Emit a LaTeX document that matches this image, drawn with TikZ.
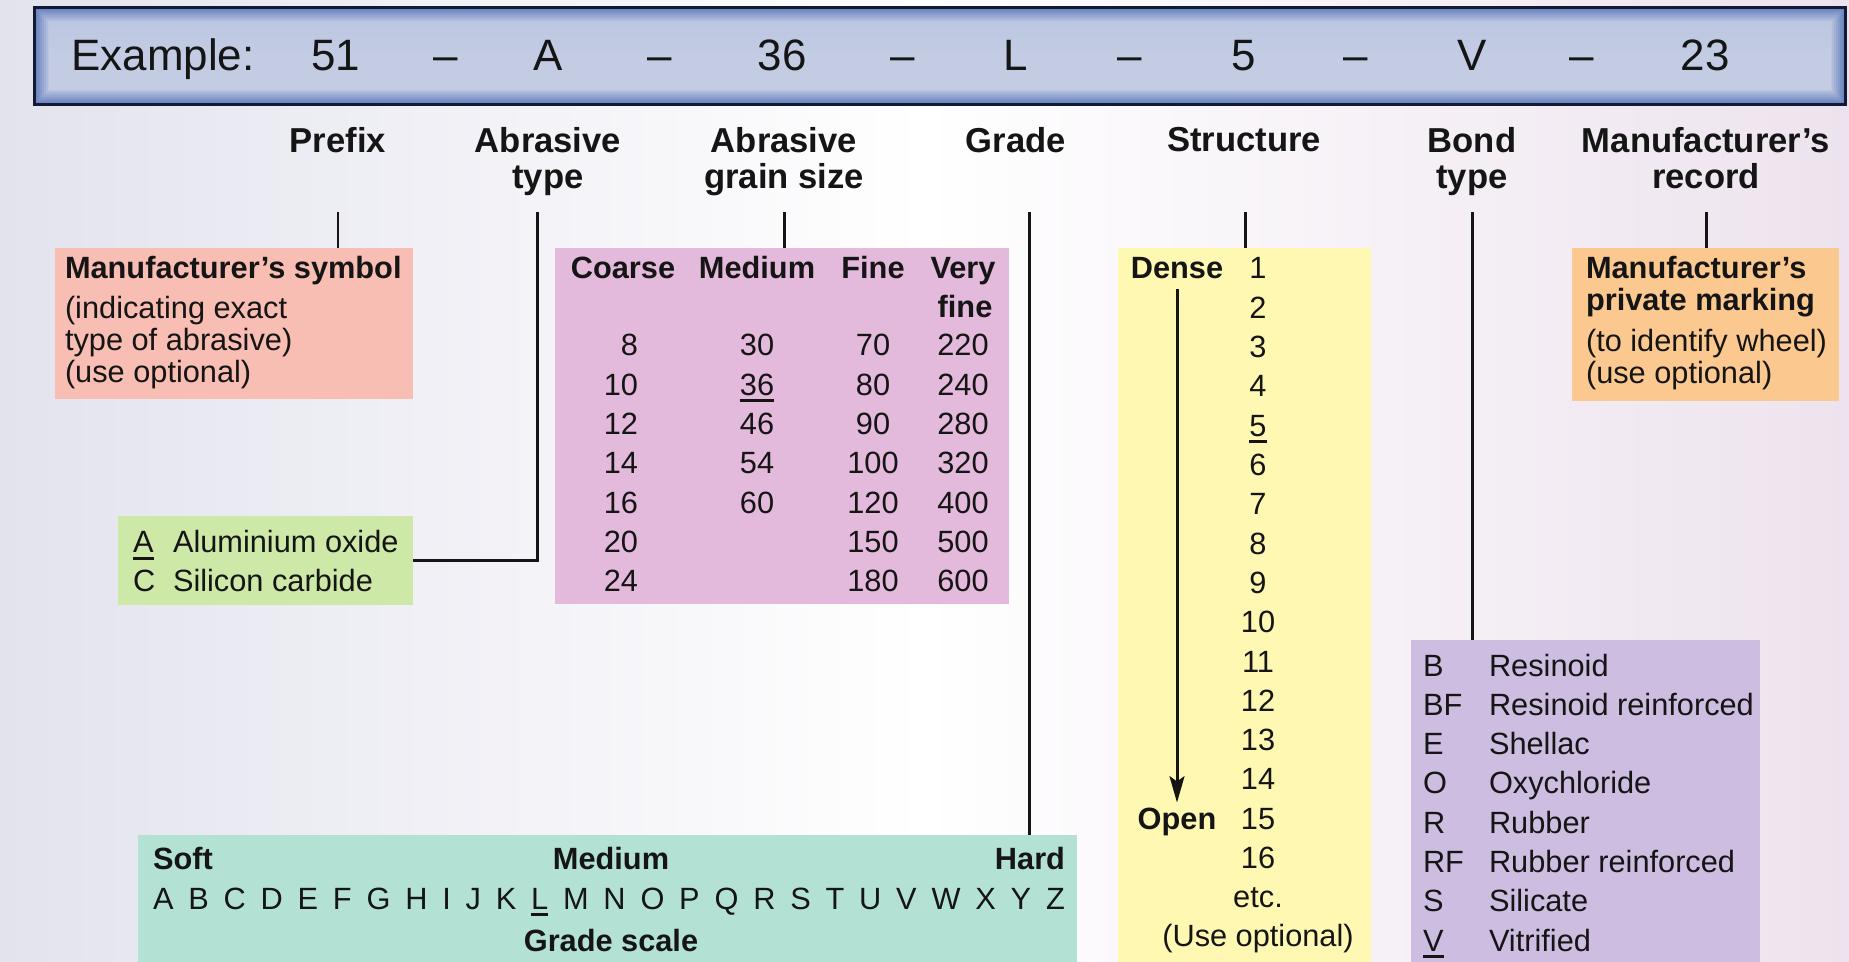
\documentclass[tikz,border=0pt]{standalone}
\usepackage{fontspec}
\setmainfont{Liberation Sans}
\usepackage{xcolor}
\usetikzlibrary{arrows.meta, positioning}

\definecolor{inkc}{HTML}{151515}
\definecolor{salmonc}{HTML}{F8BDB3}
\definecolor{limec}{HTML}{CDE8A7}
\definecolor{orchidc}{HTML}{E3B9DC}
\definecolor{tealc}{HTML}{B3E2D4}
\definecolor{lemonc}{HTML}{FFF8B2}
\definecolor{lilacc}{HTML}{CDBDE0}
\definecolor{apricotc}{HTML}{FBC990}
\definecolor{navyc}{HTML}{111B33}
\definecolor{steelc}{HTML}{6F88C2}
\definecolor{paleblue}{HTML}{C3CCE3}
\definecolor{bgleft}{HTML}{E3E3EE}
\definecolor{bgright}{HTML}{EDE3EE}

% underline with a thicker rule
\newcommand{\undr}[1]{\setbox0\hbox{#1}\rlap{\rule[-3.8pt]{\wd0}{1.6pt}}\box0}

\tikzset{
  txt/.style={inner sep=0pt, outer sep=0pt, text=inkc, font=\fontsize{17.5}{18.4}\selectfont},
  hd/.style={txt, font=\fontsize{19.7}{21}\selectfont\bfseries, align=center, anchor=north},
  bd/.style={txt, font=\fontsize{17.5}{18.4}\selectfont\bfseries},
  code/.style={txt, font=\fontsize{25}{28}\selectfont, anchor=base},
  panel/.style={draw=none, inner sep=0pt, outer sep=0pt, anchor=north west},
  link/.style={draw=inkc, line width=1.7pt},
}

\begin{document}
\begin{tikzpicture}[x=0.02cm, y=-0.02cm]
  \useasboundingbox (0,0) rectangle (1849,962);
  \shade[left color=bgleft, right color=bgright, middle color=white] (0,0) rectangle (1849,962);

  % code banner
  \fill[navyc] (33,6) rectangle (1847,106);
  \foreach \k in {0,...,6}
    \fill[steelc!\fpeval{100-\k*15}!paleblue] ({36+2*\k},{9+2*\k}) rectangle ({1844-2*\k},{103-2*\k});
  \shade[top color=paleblue!92!steelc, bottom color=paleblue, middle color=paleblue] (49,22) rectangle (1831,90);
  \node[code] (ex) at (163,71) {Example:};
  \foreach \t/\x [count=\i] in {51/336, \textendash/446, A/548, \textendash/660, 36/782,
      \textendash/903, L/1016, \textendash/1130, 5/1244, \textendash/1356, V/1472,
      \textendash/1582, 23/1705}
    \node[code] (b\i) at (\x,71) {\t};

  % field names
  \node[hd] (prefix) at (338,127) {Prefix};
  \node[hd] (atype) at (548,127) {Abrasive\\type};
  \node[hd] (gsize) at (784,127) {Abrasive\\grain size};
  \node[hd] (grade) at (1016,127) {Grade};
  \node[hd] (struct) at (1244,127) {Structure};
  \node[hd] (btype) at (1472,127) {Bond\\type};
  \node[hd] (mrec) at (1706,127) {Manufacturer’s\\record};

  % panels
  \node[panel, fill=salmonc, minimum width=7.16cm, minimum height=3.02cm] (symbol) at (55,248) {};
  \node[panel, fill=limec, minimum width=5.9cm, minimum height=1.78cm] (abr) at (118,516) {};
  \node[panel, fill=orchidc, minimum width=9.08cm, minimum height=7.12cm] (grain) at (555,248) {};
  \node[panel, fill=tealc, minimum width=18.78cm, minimum height=2.54cm] (scalebox) at (138,835) {};
  \node[panel, fill=lemonc, minimum width=5.06cm, minimum height=14.28cm] (dens) at (1118,248) {};
  \node[panel, fill=lilacc, minimum width=6.98cm, minimum height=6.44cm] (bond) at (1411,640) {};
  \node[panel, fill=apricotc, minimum width=5.34cm, minimum height=3.06cm] (record) at (1572,248) {};

  % connectors
  \coordinate (tP) at (338,212);
  \coordinate (tA) at (537,212);
  \coordinate (tG) at (784,212);
  \coordinate (tL) at (1029,212);
  \coordinate (tS) at (1245,212);
  \coordinate (tV) at (1472,212);
  \coordinate (tR) at (1706,212);
  \draw[link] (tP) -- (tP |- symbol.north);
  \draw[link] (tA) |- (abr.east);
  \draw[link] (tG) -- (tG |- grain.north);
  \draw[link] (tL) -- (tL |- scalebox.north);
  \draw[link] (tS) -- (tS |- dens.north);
  \draw[link] (tV) -- (tV |- bond.north);
  \draw[link] (tR) -- (tR |- record.north);

  % prefix
  \node[bd, anchor=north west] (symtitle) at (65,256) {Manufacturer’s symbol};
  \node[txt, anchor=north west, align=left] (symtext) at (65,296) {(indicating exact\\type of abrasive)\\(use optional)};

  % abrasive type
  \node[txt, anchor=base west] (kA) at (133,553) {\undr{A}};
  \node[txt, anchor=base west] (nA) at (173,553) {Aluminium oxide};
  \node[txt, anchor=base west] (kC) at (133,591) {C};
  \node[txt, anchor=base west] (nC) at (173,591) {Silicon carbide};

  % grain size
  \node[bd, anchor=base] (hcoarse) at (623,279) {Coarse};
  \node[bd, anchor=base] (hmed) at (757,279) {Medium};
  \node[bd, anchor=base] (hfine) at (873,279) {Fine};
  \node[bd, anchor=base] (hvery) at (963,279) {Very};
  \node[bd, anchor=base] (hvfine) at (965,318) {fine};
  \foreach \c/\m/\f/\v [count=\i] in {8/30/70/220, 10/\undr{36}/80/240, 12/46/90/280,
      14/54/100/320, 16/60/120/400, 20//150/500, 24//180/600}
  {
    \node[txt, anchor=base east] (gc\i) at (638,{356+39.3*(\i-1)}) {\c};
    \node[txt, anchor=base] (gm\i) at (757,{356+39.3*(\i-1)}) {\m};
    \node[txt, anchor=base] (gf\i) at (873,{356+39.3*(\i-1)}) {\f};
    \node[txt, anchor=base] (gv\i) at (963,{356+39.3*(\i-1)}) {\v};
  }

  % grade scale
  \node[bd, anchor=base west] (soft) at (153,869) {Soft};
  \node[bd, anchor=base] (medium) at (611,869) {Medium};
  \node[bd, anchor=base east] (hard) at (1065,869) {Hard};
  \node[txt, anchor=base west] (letters) at (153,909) {\hbox to 18.24cm{A\hfill B\hfill C\hfill D\hfill E\hfill F\hfill G\hfill H\hfill I\hfill J\hfill K\hfill \undr{L}\hfill M\hfill N\hfill O\hfill P\hfill Q\hfill R\hfill S\hfill T\hfill U\hfill V\hfill W\hfill X\hfill Y\hfill Z}};
  \node[bd, anchor=base] (gscale) at (611,951) {Grade scale};

  % structure
  \foreach \n [count=\i] in {1,2,3,4,\undr{5},6,7,8,9,10,11,12,13,14,15,16}
    \node[txt, anchor=base] (s\i) at (1258,{279+39.3*(\i-1)}) {\n};
  \node[txt, anchor=base] (setc) at (1258,907) {etc.};
  \node[txt, anchor=base] (sopt) at (1258,946) {(Use optional)};
  \node[bd, anchor=base] (dense) at (1177,279) {Dense};
  \node[bd, anchor=base] (open) at (1177,829) {Open};
  \draw[link, -{Stealth[length=15pt, width=8.5pt, inset=3pt]}, shorten <=0.2cm, shorten >=0.1cm] (dense) -- (open);

  % bond type
  \foreach \k/\name [count=\i] in {B/Resinoid, BF/Resinoid reinforced, E/Shellac, O/Oxychloride,
      R/Rubber, RF/Rubber reinforced, S/Silicate, \undr{V}/Vitrified}
  {
    \node[txt, anchor=base west] (bk\i) at (1423,{676+39.3*(\i-1)}) {\k};
    \node[txt, anchor=base west] (bn\i) at (1489,{676+39.3*(\i-1)}) {\name};
  }

  % manufacturer's record
  \node[bd, anchor=north west, align=left] (rectitle) at (1586,256) {Manufacturer’s\\private marking};
  \node[txt, anchor=north west, align=left] (rectext) at (1586,329) {(to identify wheel)\\(use optional)};
\end{tikzpicture}
\end{document}
